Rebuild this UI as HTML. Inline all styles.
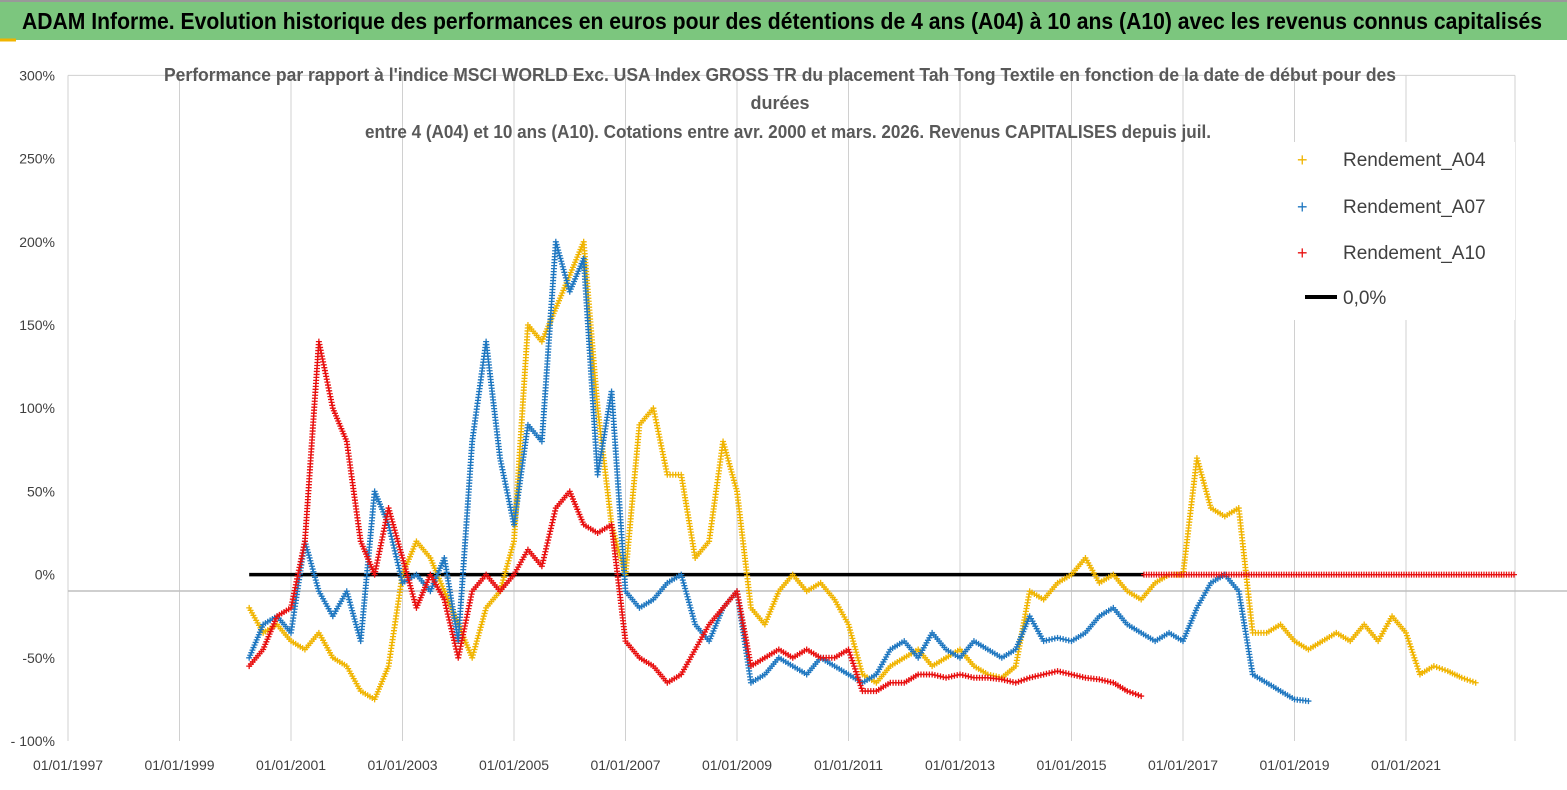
<!DOCTYPE html>
<html><head><meta charset="utf-8"><style>
body{margin:0;background:#fff;}
svg{display:block;font-family:"Liberation Sans Narrow","Liberation Sans",sans-serif;}
</style></head><body>
<svg id="chart" width="1567" height="790" viewBox="0 0 1567 790">
<rect x="0" y="0" width="1567" height="790" fill="#fff"/>
<rect x="0" y="0" width="1567" height="40" fill="#7cc67e"/>
<line x1="0" y1="1" x2="1567" y2="1" stroke="#999" stroke-width="2"/>
<line x1="0" y1="40" x2="16" y2="40" stroke="#f0b400" stroke-width="3"/>
<text x="22" y="29" font-size="23" font-weight="bold" fill="#000" textLength="1520" lengthAdjust="spacingAndGlyphs">ADAM Informe. Evolution historique des performances en euros pour des détentions de 4 ans (A04) à 10 ans (A10) avec les revenus connus capitalisés</text>
<g id="grid"></g>
<g id="axes"></g>
<g font-size="18" font-weight="bold" fill="#595959" text-anchor="middle">
<text x="780" y="81" textLength="1232" lengthAdjust="spacingAndGlyphs">Performance par rapport à l'indice MSCI WORLD Exc. USA Index GROSS TR  du placement Tah Tong Textile  en fonction de la date de début pour des</text>
<text x="780" y="109">durées</text>
<text x="788" y="138" textLength="846" lengthAdjust="spacingAndGlyphs">entre 4 (A04) et 10 ans (A10). Cotations entre avr. 2000 et mars. 2026. Revenus CAPITALISES depuis juil.</text>
</g>
<g id="marks"></g>
<g>
<rect x="1290" y="142" width="225" height="178" fill="#fff"/>
<text x="1297" y="166" font-size="18" fill="#f0b400">+</text>
<text x="1343" y="166" font-size="19" fill="#404040">Rendement_A04</text>
<text x="1297" y="213" font-size="18" fill="#1f77c0">+</text>
<text x="1343" y="213" font-size="19" fill="#404040">Rendement_A07</text>
<text x="1297" y="259" font-size="18" fill="#e81010">+</text>
<text x="1343" y="259" font-size="19" fill="#404040">Rendement_A10</text>
<line x1="1305" y1="297" x2="1337" y2="297" stroke="#000" stroke-width="4"/>
<text x="1343" y="304" font-size="19" fill="#404040">0,0%</text>
</g>
</svg>
<script>
const yTicks=[300,250,200,150,100,50,0,-50,-100];
const yTickLabels=["300%","250%","200%","150%","100%","50%","0%","-50%","- 100%"];
const xTickYears=[1997,1999,2001,2003,2005,2007,2009,2011,2013,2015,2017,2019,2021];
const xTickLabels=["01/01/1997","01/01/1999","01/01/2001","01/01/2003","01/01/2005","01/01/2007","01/01/2009","01/01/2011","01/01/2013","01/01/2015","01/01/2017","01/01/2019","01/01/2021"];
const startA04=2000.25;
const valsA04=[-20,-35,-30,-40,-45,-35,-50,-55,-70,-75,-55,0,20,10,-10,-30,-50,-20,-10,20,150,140,160,180,200,100,30,0,90,100,60,60,10,20,80,50,-20,-30,-10,0,-10,-5,-15,-30,-60,-65,-55,-50,-45,-55,-50,-45,-55,-60,-62,-55,-10,-15,-5,0,10,-5,0,-10,-15,-5,0,0,70,40,35,40,-35,-35,-30,-40,-45,-40,-35,-40,-30,-40,-25,-35,-60,-55,-58,-62,-65];
const startA07=2000.25;
const valsA07=[-50,-30,-25,-35,20,-10,-25,-10,-40,50,30,-5,0,-10,10,-40,80,140,70,30,90,80,200,170,190,60,110,-10,-20,-15,-5,0,-30,-40,-20,-10,-65,-60,-50,-55,-60,-50,-55,-60,-65,-60,-45,-40,-50,-35,-45,-50,-40,-45,-50,-45,-25,-40,-38,-40,-35,-25,-20,-30,-35,-40,-35,-40,-20,-5,0,-10,-60,-65,-70,-75,-76];
const startA10=2000.25;
const valsA10=[-55,-45,-25,-20,20,140,100,80,20,0,40,10,-20,0,-15,-50,-10,0,-10,0,15,5,40,50,30,25,30,-40,-50,-55,-65,-60,-45,-30,-20,-10,-55,-50,-45,-50,-45,-50,-50,-45,-70,-70,-65,-65,-60,-60,-62,-60,-62,-62,-63,-65,-62,-60,-58,-60,-62,-63,-65,-70,-73];
const zeroRedRange=[2016.3,2022.96];
const zeroLineRange=[2000.25,2016.3];
const step=0.25;

const NS="http://www.w3.org/2000/svg";
const X=y=>68+(y-1997)*55.75;
const Y=v=>574.6-v*1.664;
function mk(tag,attrs,parent){const e=document.createElementNS(NS,tag);for(const k in attrs)e.setAttribute(k,attrs[k]);parent.appendChild(e);return e;}
const gridG=document.getElementById('grid'),axesG=document.getElementById('axes'),marksG=document.getElementById('marks');
const plotTop=Y(300),plotBot=Y(-100),plotRight=1515;
mk('line',{x1:68,y1:plotTop,x2:plotRight,y2:plotTop,stroke:'#d0d0d0'},gridG);
xTickYears.forEach((yr,i)=>{
 const l=mk('line',{x1:X(yr),y1:plotTop,x2:X(yr),y2:plotBot,stroke:'#d0d0d0'},gridG);
 
 
 const t=mk('text',{x:X(yr),y:770,'font-size':14,fill:'#404040','text-anchor':'middle'},axesG);
 t.textContent=xTickLabels[i];
 
 
});
mk('line',{x1:plotRight,y1:plotTop,x2:plotRight,y2:plotBot,stroke:'#d0d0d0'},gridG);
yTicks.forEach((v,i)=>{
 const t=mk('text',{x:55,y:Y(v)+5,'font-size':14,fill:'#404040','text-anchor':'end'},axesG);
 t.textContent=yTickLabels[i];
 
 
});
const ax=mk('line',{x1:68,y1:591,x2:1567,y2:591,stroke:'#bfbfbf','stroke-width':1.5},axesG);


const zl=mk('line',{x1:X(zeroLineRange[0]),y1:Y(0),x2:X(zeroLineRange[1]),y2:Y(0),stroke:'#000','stroke-width':3.5},marksG);


function plus(g,x,y,c){mk('path',{d:`M${x-3} ${y}h6M${x} ${y-3}v6`,stroke:c,'stroke-width':1.3},g);}
function series(start,vals,color,name){
 const g=mk('g',{},marksG);
 
 
 for(let i=0;i<vals.length;i++){
  const x0=X(start+i*step),y0=Y(vals[i]);
  plus(g,x0,y0,color);
  if(i<vals.length-1){
   const x1=X(start+(i+1)*step),y1=Y(vals[i+1]);
   const n=Math.max(4,Math.ceil(Math.hypot(x1-x0,y1-y0)/3));
   for(let k=1;k<n;k++){const f=k/n;plus(g,x0+(x1-x0)*f,y0+(y1-y0)*f,color);}
  }
 }
}
series(startA04,valsA04,'#f0b400','series-a04');
series(startA07,valsA07,'#1f77c0','series-a07');
series(startA10,valsA10,'#e81010','series-a10');
const rz=mk('g',{},marksG);


for(let x=X(zeroRedRange[0]);x<=X(zeroRedRange[1]);x+=2.5)plus(rz,x,Y(0),'#e81010');
</script>
</body></html>
